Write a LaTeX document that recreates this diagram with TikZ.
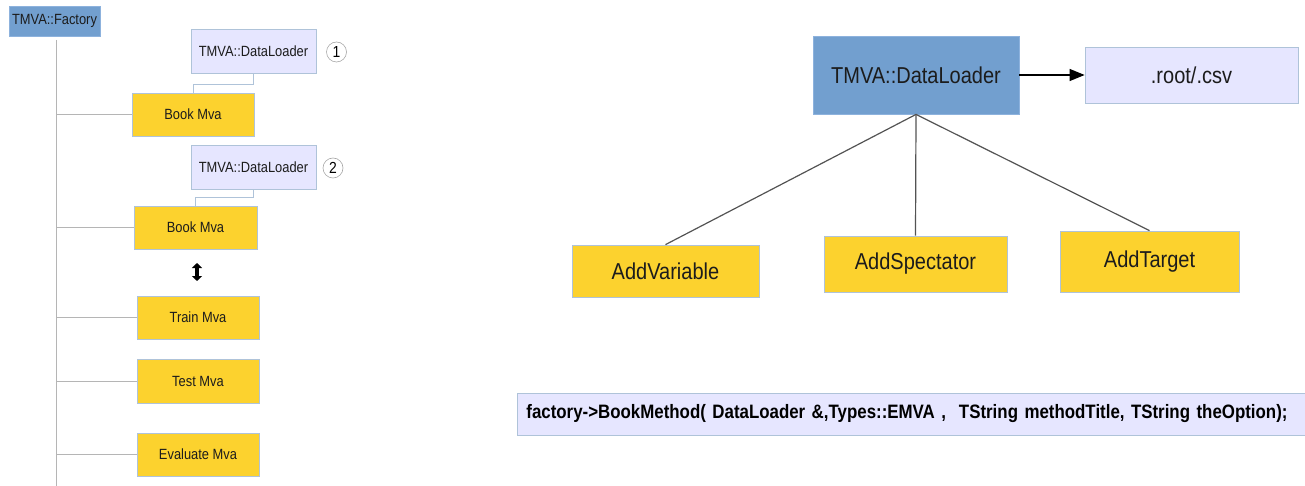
\documentclass[tikz,border=0pt]{standalone}
\usepackage{fontspec}
\setmainfont{Liberation Sans}[FakeStretch=0.87]
\usetikzlibrary{arrows.meta}

\definecolor{tmvablue}{HTML}{729FCF}
\definecolor{tmvablueedge}{HTML}{8DB2DD}
\definecolor{tmvayellow}{HTML}{FCD22E}
\definecolor{tmvalav}{HTML}{E6E6FF}
\definecolor{boxedge}{HTML}{AFC3D9}
\definecolor{treeline}{HTML}{B5B5B5}
\definecolor{txt}{HTML}{1C1C1C}

\tikzset{
  box/.style={draw=boxedge, line width=0.8pt, text=txt, inner sep=0pt},
  smalltext/.style={font=\fontsize{14.8}{17}\selectfont},
  bigtext/.style={font=\fontsize{23}{27}\selectfont},
  factorybox/.style={box, smalltext, fill=tmvablue, draw=tmvablueedge},
  loaderbox/.style={box, smalltext, fill=tmvalav, minimum width=125pt, minimum height=44pt},
  mvabox/.style={box, smalltext, fill=tmvayellow, minimum width=122pt, minimum height=43pt},
  numcircle/.style={circle, draw=gray!70, line width=0.6pt, minimum size=20pt, inner sep=0pt, font=\fontsize{16}{18}\selectfont},
  mainloader/.style={box, bigtext, fill=tmvablue, draw=tmvablueedge},
  filebox/.style={box, bigtext, fill=tmvalav},
  optbox/.style={box, bigtext, fill=tmvayellow},
  callbox/.style={box, fill=tmvalav, font=\bfseries\fontsize{19.4}{22}\selectfont, text=black},
  tree/.style={draw=treeline, line width=1pt},
  hook/.style={draw=boxedge, line width=1pt},
  link/.style={draw=gray!65!black, line width=1.2pt}
}

\begin{document}
\begin{tikzpicture}[x=1pt,y=-1pt]
\useasboundingbox (0,0) rectangle (1305,486);

% factory and its steps
\node[factorybox, minimum width=91pt, minimum height=30pt] (factory) at (54.5,21) {TMVA::Factory};
\coordinate (trunkTop) at (56,40);
\coordinate (trunkEnd) at (56,486);
\draw[tree] (trunkTop) -- (trunkEnd);

\node[loaderbox] (loaderA) at (253.5,51) {TMVA::DataLoader};
\node[numcircle] (numA) at (336.5,52) {1};
\node[mvabox] (bookA) at (193,114.5) {Book Mva};
\node[loaderbox] (loaderB) at (253.5,167.5) {TMVA::DataLoader};
\node[numcircle] (numB) at (333,168) {2};
\node[mvabox, minimum width=123pt] (bookB) at (195.5,227.5) {Book Mva};
\node[mvabox] (train) at (198,317.5) {Train Mva};
\node[mvabox, minimum height=44pt] (test) at (198,381) {Test Mva};
\node[mvabox] (evaluate) at (198,454.5) {Evaluate Mva};

\foreach \n in {bookA,bookB,train,test,evaluate}
  \draw[tree] (\n.west -| trunkTop) -- (\n.west);

\draw[hook] (loaderA.south) -- ++(0,11) -| (bookA.north);
\draw[hook] (loaderB.south) -- ++(0,8) -| (bookB.north);

\coordinate (swapTop) at (197,263);
\coordinate (swapBot) at (197,281);
\draw[line width=4pt, {Triangle[length=5pt,width=10pt]}-{Triangle[length=5pt,width=10pt]}] (swapTop) -- (swapBot);

% data loader and what it is given
\node[mainloader, minimum width=206pt, minimum height=78pt] (loader) at (916,75) {TMVA::DataLoader};
\node[filebox, minimum width=213pt, minimum height=56pt] (files) at (1191.5,75) {.root/.csv};
\node[optbox, minimum width=187pt, minimum height=52pt] (addVar) at (665.5,271) {AddVariable};
\node[optbox, minimum width=183pt, minimum height=56pt] (addSpec) at (915.5,264) {AddSpectator};
\node[optbox, minimum width=179pt, minimum height=61pt] (addTarget) at (1149.5,261.5) {AddTarget};

\draw[line width=1.2pt, -{Triangle[length=15pt,width=12pt]}] (loader) -- (files);
\foreach \n in {addVar,addSpec,addTarget}
  \draw[link] (loader.south) -- (\n.north);

\node[callbox, anchor=west, minimum height=42pt, text width=773pt, inner xsep=9pt, align=left] (call) at (517,414)
  {\mbox{factory->BookMethod( DataLoader \&,Types::EMVA ,\ \ TString methodTitle, TString theOption);}};

\end{tikzpicture}
\end{document}
